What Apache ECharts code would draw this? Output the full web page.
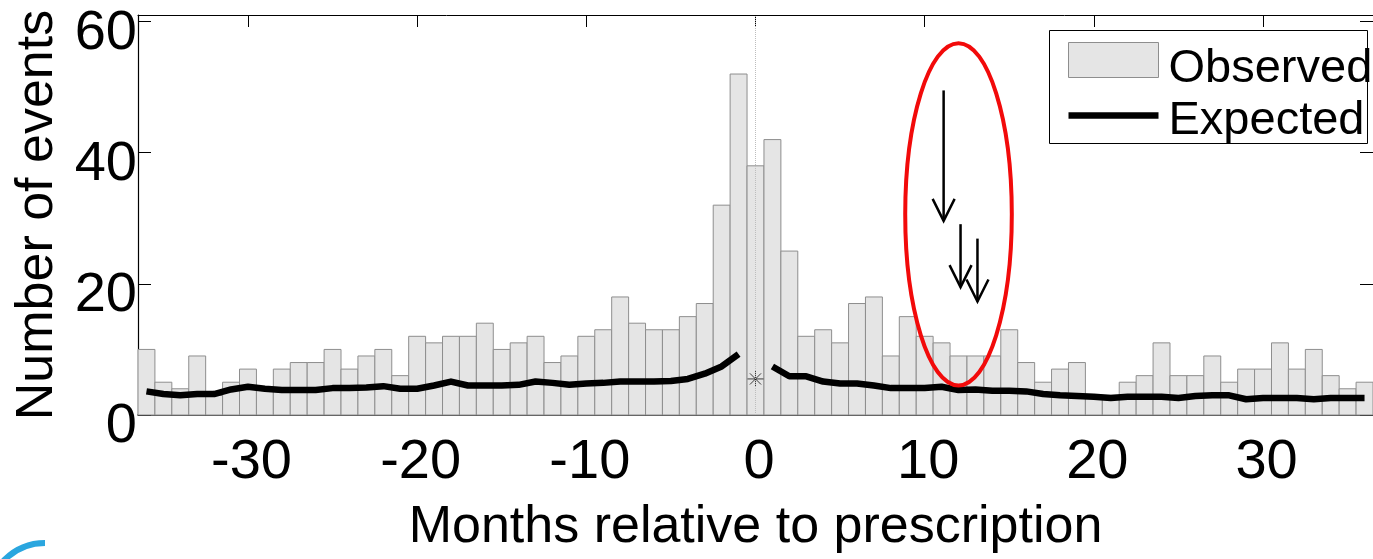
<!DOCTYPE html>
<html>
<head>
<meta charset="utf-8">
<title>Observed vs expected events</title>
<script src="https://cdn.jsdelivr.net/npm/echarts@6/dist/echarts.min.js"></script>
<style>
    html, body { margin: 0; padding: 0; background: #fff; }
    #main { width: 1373px; height: 559px; }
</style>
</head>
<body>
<div id="main"></div>
<script>
    // 数据
    var months = [-36, -35, -34, -33, -32, -31, -30, -29, -28, -27, -26, -25, -24, -23, -22, -21, -20, -19, -18, -17,
        -16, -15, -14, -13, -12, -11, -10, -9, -8, -7, -6, -5, -4, -3, -2, -1, 0, 1, 2, 3,
        4, 5, 6, 7, 8, 9, 10, 11, 12, 13, 14, 15, 16, 17, 18, 19, 20, 21, 22, 23,
        24, 25, 26, 27, 28, 29, 30, 31, 32, 33, 34, 35, 36];

    var observed = [10, 5, 4, 9, 3, 5, 7, 4, 7, 8, 8, 10, 7, 9, 10, 6, 12, 11, 12, 12,
        14, 10, 11, 12, 8, 9, 12, 13, 18, 14, 13, 13, 15, 17, 32, 52, 38, 42, 25, 12,
        13, 11, 17, 18, 9, 15, 12, 11, 9, 9, 9, 13, 8, 5, 7, 8, 3, 3, 5, 6,
        11, 6, 6, 9, 5, 7, 7, 11, 7, 10, 6, 4, 5];

    // null at month 0 -> the line is broken there
    var expected = [3.6, 3.2, 3.0, 3.2, 3.2, 3.9, 4.3, 4.0, 3.8, 3.8, 3.8, 4.1, 4.1, 4.2, 4.4, 4.0, 4.0, 4.5, 5.1, 4.5,
        4.5, 4.5, 4.6, 5.1, 4.9, 4.6, 4.8, 4.9, 5.1, 5.1, 5.1, 5.2, 5.5, 6.3, 7.4, 9.3, null, 7.4, 5.9, 5.9,
        5.1, 4.8, 4.8, 4.5, 4.1, 4.1, 4.1, 4.3, 3.8, 3.9, 3.7, 3.7, 3.6, 3.2, 3.0, 2.9, 2.8, 2.6, 2.8, 2.8,
        2.8, 2.6, 2.9, 3.0, 3.0, 2.4, 2.6, 2.6, 2.6, 2.4, 2.6, 2.6, 2.6];

    var starPoint = [0, 5.5];

    var xTicks = [-30, -20, -10, 0, 10, 20, 30];
    var yTicks = [0, 20, 40, 60];
    var legendNames = ['Observed', 'Expected'];

    // annotation (data units): ellipse centre / radii, arrows [x, top, tip]
    var ellipseAnno = [12.0, 30.6, 3.15, 26.1];
    var arrowsAnno = [[11.12, 49.5, 29.6], [12.12, 29.1, 19.5], [13.12, 26.9, 17.3]];

    var FONT = '"Liberation Sans", Arial, sans-serif';
    var BAR_FILL = '#e5e5e5',
        BAR_EDGE = '#8e8e8e';

    var chart = echarts.init(document.getElementById('main'));

    function renderBar(params, api) {
        var x = api.value(0),
            y = api.value(1);
        var p0 = api.coord([x - 0.5, y]),
            p1 = api.coord([x + 0.5, 0]);
        return {
            type: 'rect',
            shape: { x: p0[0], y: p0[1], width: p1[0] - p0[0], height: p1[1] - p0[1] },
            style: { fill: BAR_FILL, stroke: BAR_EDGE, lineWidth: 1 }
        };
    }

    var barData = months.map(function (m, i) { return [m, observed[i]]; });
    var lineData = months.map(function (m, i) { return [m, expected[i] == null ? '-' : expected[i]]; });

    var option = {
        animation: false,
        backgroundColor: '#fff',
        textStyle: { fontFamily: FONT },
        grid: { left: 138, top: 15, right: -7, bottom: 136.5 },
        xAxis: [{
            type: 'value',
            min: -36.5,
            max: 36.5,
            name: 'Months relative to prescription',
            nameLocation: 'middle',
            nameGap: 87,
            nameTextStyle: { fontSize: 52, color: '#000', fontFamily: FONT },
            axisLine: { onZero: false, lineStyle: { color: '#000', width: 1.5 } },
            axisTick: { inside: true, length: 12, lineStyle: { color: '#000' }, customValues: xTicks },
            axisLabel: {
                margin: 20,
                customValues: xTicks,
                formatter: function (v) { return '{t|' + v + '}'; },
                rich: { t: { fontSize: 56, color: '#000', fontFamily: FONT, padding: [0, 0, 0, 7] } }
            },
            splitLine: { show: false }
        }, {
            type: 'value',
            position: 'top',
            min: -36.5,
            max: 36.5,
            axisLine: { onZero: false, lineStyle: { color: '#000', width: 1 } },
            axisTick: { inside: true, length: 12, lineStyle: { color: '#000' }, customValues: xTicks },
            axisLabel: { show: false },
            splitLine: { show: false }
        }],
        yAxis: [{
            type: 'value',
            min: 0,
            max: 61,
            name: 'Number of events',
            nameLocation: 'middle',
            nameGap: 67,
            nameTextStyle: { fontSize: 52, color: '#000', fontFamily: FONT },
            axisLine: { show: true, onZero: false, lineStyle: { color: '#000', width: 1.2 } },
            axisTick: { show: true, inside: true, length: 13, lineStyle: { color: '#000' }, customValues: yTicks },
            axisLabel: {
                fontSize: 56, color: '#000', margin: 1, fontFamily: FONT, customValues: yTicks,
                verticalAlign: 'top', lineHeight: 24
            },
            splitLine: { show: false }
        }, {
            type: 'value',
            position: 'right',
            min: 0,
            max: 61,
            axisLine: { show: true, onZero: false, lineStyle: { color: '#000', width: 1 } },
            axisTick: { show: true, inside: true, length: 13, lineStyle: { color: '#000' }, customValues: yTicks },
            axisLabel: { show: false },
            splitLine: { show: false }
        }],
        series: [{
            name: legendNames[0],
            type: 'custom',
            renderItem: renderBar,
            encode: { x: 0, y: 1 },
            itemStyle: { color: BAR_FILL, borderColor: BAR_EDGE },
            data: barData,
            z: 1
        }, {
            name: legendNames[1],
            type: 'line',
            data: lineData,
            symbol: 'none',
            connectNulls: false,
            lineStyle: { color: '#000', width: 6.5, join: 'round' },
            itemStyle: { color: '#000' },
            z: 4
        }, {
            // 0 月的星号 + 虚线
            name: 'star',
            type: 'scatter',
            data: [starPoint],
            symbol: 'path://M0,-10 L0,10 M-10,0 L10,0 M-7,-7 L7,7 M-7,7 L7,-7',
            symbolSize: 16,
            itemStyle: { color: 'none', borderColor: '#111', borderWidth: 1 },
            markLine: {
                silent: true,
                symbol: 'none',
                label: { show: false },
                lineStyle: { color: '#bdbdbd', type: 'dotted', width: 1 },
                data: [{ xAxis: 0 }]
            },
            z: 3
        }]
    };

    chart.setOption(option);

    var gOpts = [];

    // 图例 (MATLAB 风格方框)
    gOpts.push({
        type: 'group',
        left: 1049,
        top: 30,
        z: 20,
        children: [{
            type: 'rect',
            shape: { x: 0, y: 0, width: 318, height: 113 },
            style: { fill: '#fff', stroke: '#000', lineWidth: 1 }
        }, {
            type: 'rect',
            shape: { x: 19, y: 12, width: 90, height: 35 },
            style: { fill: BAR_FILL, stroke: BAR_EDGE, lineWidth: 1 }
        }, {
            type: 'line',
            shape: { x1: 19, y1: 85, x2: 109, y2: 85 },
            style: { stroke: '#000', lineWidth: 6.5 }
        }, {
            type: 'text',
            x: 119,
            y: 39,
            style: { text: legendNames[0], font: '47px ' + FONT, fill: '#000', verticalAlign: 'middle' }
        }, {
            type: 'text',
            x: 119,
            y: 91,
            style: { text: legendNames[1], font: '47px ' + FONT, fill: '#000', verticalAlign: 'middle' }
        }]
    });

    // 标注: 红色椭圆 + 箭头
    var c = chart.convertToPixel({ gridIndex: 0 }, [ellipseAnno[0], ellipseAnno[1]]),
        cx = chart.convertToPixel({ gridIndex: 0 }, [ellipseAnno[0] + ellipseAnno[2], ellipseAnno[1]]),
        cy = chart.convertToPixel({ gridIndex: 0 }, [ellipseAnno[0], ellipseAnno[1] + ellipseAnno[3]]);

    gOpts.push({
        type: 'ellipse',
        shape: { cx: c[0], cy: c[1], rx: cx[0] - c[0], ry: c[1] - cy[1] },
        style: { fill: 'none', stroke: '#f20a0a', lineWidth: 4 },
        z: 10
    });

    arrowsAnno.forEach(function (a) {
        var top = chart.convertToPixel({ gridIndex: 0 }, [a[0], a[1]]),
            tip = chart.convertToPixel({ gridIndex: 0 }, [a[0], a[2]]);
        gOpts.push({
            type: 'line',
            shape: { x1: top[0], y1: top[1], x2: tip[0], y2: tip[1] },
            style: { stroke: '#000', lineWidth: 2.5 },
            z: 10
        });
        gOpts.push({
            type: 'polyline',
            shape: { points: [[tip[0] - 11, tip[1] - 22], [tip[0], tip[1]], [tip[0] + 11, tip[1] - 22]] },
            style: { stroke: '#000', lineWidth: 2.5, fill: 'none' },
            z: 10
        });
    });

    // 左下角蓝色弧线
    gOpts.push({
        type: 'arc',
        shape: { cx: 45, cy: 600, r: 57, startAngle: Math.PI, endAngle: Math.PI * 1.5, clockwise: true },
        style: { stroke: '#2aa6df', lineWidth: 6, fill: 'none' },
        z: 10
    });

    chart.setOption({ graphic: gOpts });
</script>
</body>
</html>
